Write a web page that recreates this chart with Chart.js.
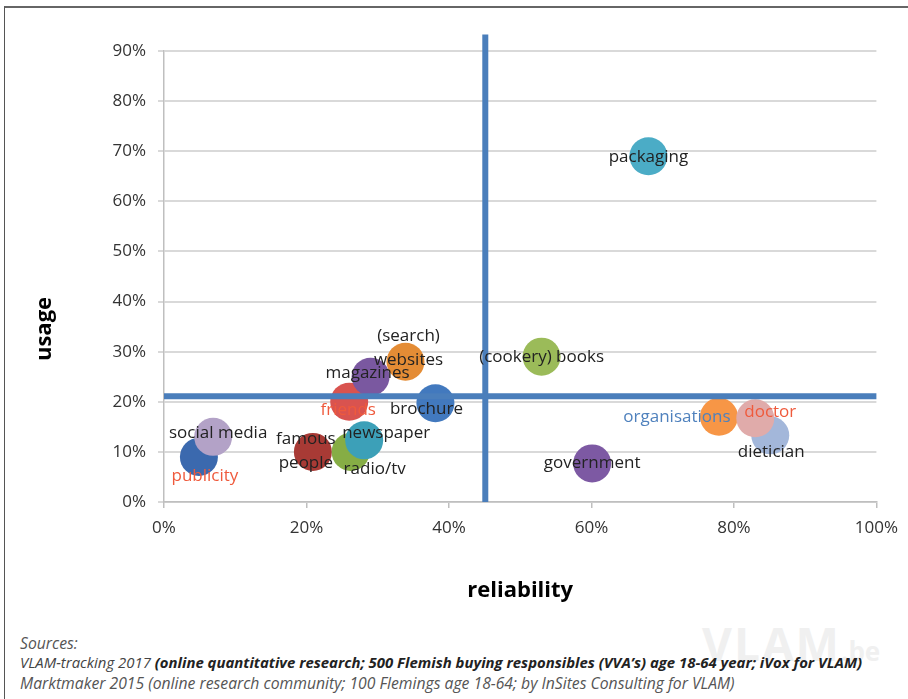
<!DOCTYPE html>
<html>
<head>
<meta charset="utf-8">
<script src="https://cdn.jsdelivr.net/npm/chart.js@4.4.1/dist/chart.umd.min.js"></script>
<style>
  html, body { margin: 0; padding: 0; background: #fff; width: 908px; height: 699px; overflow: hidden; font-family: "Open Sans", sans-serif; }
  #frame { position: absolute; left: 4px; top: 6px; width: 904px; height: 700px; border-left: 1px solid #555; border-top: 2px solid #666; }
  #wrap { position: absolute; left: 0; top: 0; width: 908px; height: 620px; }
  #wm { position: absolute; left: 702px; top: 612px; font-size: 46px; font-weight: bold; color: #f0f0f0; letter-spacing: 2px; }
  #wm span { font-size: 26px; letter-spacing: 0; }
  .src { position: absolute; left: 20px; font-style: italic; white-space: nowrap; font-size: 14px; line-height: 18px; }
</style>
</head>
<body>
<div id="frame"></div>
<div id="wm">VLAM<span>.be</span></div>
<div id="wrap"><canvas id="c" width="908" height="620"></canvas></div>
<div class="src" id="s1" style="top:634px;color:#555">Sources:</div>
<div class="src" id="s2" style="top:653px;color:#444">VLAM-tracking 2017 <b style="color:#222">(online quantitative research; 500 Flemish buying responsibles (VVA’s) age 18-64 year; iVox for VLAM)</b></div>
<div class="src" id="s3" style="top:674px;color:#555">Marktmaker 2015 (online research community; 100 Flemings age 18-64; by InSites Consulting for VLAM)</div>
<script>
// bubbles, listed in drawing order (later ones sit on top)
const categories = ['publicity', 'social media', 'famous\npeople', 'radio/tv', 'newspaper',
  'friends', 'magazines', '(search)\nwebsites', 'brochure', '(cookery) books', 'packaging',
  'government', 'organisations', 'dietician', 'doctor'];
const reliability = [4.9, 6.9, 20.9, 26.2, 28.1, 26.0, 29.0, 33.9, 38.1, 53.0, 68.0, 60.1, 77.9, 85.1, 83.0];
const usage       = [9.0, 13.0, 10.0, 10.0, 12.3, 20.0, 25.0, 28.0, 19.7, 29.0, 69.0, 7.7, 17.0, 13.3, 16.7];

const xTickValues = [0, 20, 40, 60, 80, 100];
const yTickValues = [0, 10, 20, 30, 40, 50, 60, 70, 80, 90];

// quadrant dividers
const dividerReliability = 45.1;
const dividerUsage = 21.1;
const dividerTop = 93.3;

const bubbleColors = ['#3b69ae', '#b3a2c7', '#a83a35', '#86ad45', '#3ca0b8',
  '#d9534f', '#7a58a0', '#e48c35', '#4279be', '#9bbb59', '#4bacc6',
  '#7d59a3', '#f79646', '#a3b7da', '#e0abaa'];
const RED = '#ef5a3c', BLUE = '#4f81bd', INK = '#222';
const labelColors = [RED, INK, INK, INK, INK, RED, INK, INK, INK, INK, INK, INK, BLUE, INK, RED];
const labelOffsets = [[6, 19], [5, -4], [-7, -1], [24, 17], [22, -7], [-1, 8], [-3, -4], [3, -14],
  [-9, 6], [0, 0], [0, 1], [0, 0], [-42, 0], [1, 17], [15, -6]];

const labelPlugin = {
  id: 'bubbleLabels',
  afterDatasetsDraw(chart) {
    const ctx = chart.ctx;
    const meta = chart.getDatasetMeta(2);
    ctx.save();
    ctx.font = '17px "Open Sans"';
    ctx.textAlign = 'center';
    ctx.textBaseline = 'middle';
    meta.data.forEach((el, i) => {
      const lines = categories[i].split('\n');
      const [dx, dy] = labelOffsets[i];
      ctx.fillStyle = labelColors[i];
      lines.forEach((ln, k) => {
        ctx.fillText(ln, el.x + dx, el.y + dy + (k - (lines.length - 1) / 2) * 24);
      });
    });
    // y axis title
    ctx.translate(45, 329);
    ctx.rotate(-Math.PI / 2);
    ctx.font = 'bold 22px "Open Sans"';
    ctx.fillStyle = '#000';
    ctx.fillText('usage', 0, 0);
    ctx.restore();
  }
};

const pct = v => v + '%';

new Chart(document.getElementById('c'), {
  type: 'bubble',
  data: {
    datasets: [
      {
        type: 'line',
        data: [{ x: 0, y: dividerUsage }, { x: 100, y: dividerUsage }],
        borderColor: '#4a7ebb', borderWidth: 6, pointRadius: 0, clip: false
      },
      {
        type: 'line',
        data: [{ x: dividerReliability, y: 0 }, { x: dividerReliability, y: dividerTop }],
        borderColor: '#4a7ebb', borderWidth: 6, pointRadius: 0, clip: false
      },
      {
        data: reliability.map((x, i) => ({ x, y: usage[i] })),
        backgroundColor: bubbleColors,
        borderWidth: 0,
        radius: 19,
        clip: false
      }
    ]
  },
  options: {
    responsive: false,
    animation: false,
    events: [],
    layout: { padding: { top: 51, right: 28, left: 0, bottom: 0 } },
    plugins: { legend: { display: false }, tooltip: { enabled: false } },
    scales: {
      x: {
        type: 'linear', min: 0, max: 100,
        afterBuildTicks: s => { s.ticks = xTickValues.map(v => ({ value: v })); },
        afterFit: s => { s.height = 118; },
        ticks: { callback: pct, color: '#333', font: { family: 'Open Sans', size: 17 }, padding: 10, maxRotation: 0 },
        grid: { drawOnChartArea: false, drawTicks: true, tickLength: 6, color: '#bfbfbf', lineWidth: 1.5 },
        border: { color: '#bfbfbf', width: 1.5 },
        title: { display: true, text: 'reliability', color: '#000', font: { family: 'Open Sans', size: 22, weight: 'bold' }, padding: { top: 0, bottom: 16 } }
      },
      y: {
        type: 'linear', min: 0, max: 90,
        afterBuildTicks: s => { s.ticks = yTickValues.map(v => ({ value: v })); },
        afterFit: s => { s.width = 164; },
        ticks: { callback: pct, color: '#333', font: { family: 'Open Sans', size: 17 }, padding: 12 },
        grid: { color: '#d9d9d9', lineWidth: 2, tickLength: 6 },
        border: { color: '#bfbfbf', width: 1.5 }
      }
    }
  },
  plugins: [labelPlugin]
});

// fit source lines to the reference widths
function fit(id, target) {
  const el = document.getElementById(id);
  const w = el.getBoundingClientRect().width;
  el.style.fontSize = (14 * target / w).toFixed(2) + 'px';
}
fit('s2', 842);
fit('s3', 715);
document.getElementById('s1').style.fontSize = document.getElementById('s3').style.fontSize;
</script>
</body>
</html>
